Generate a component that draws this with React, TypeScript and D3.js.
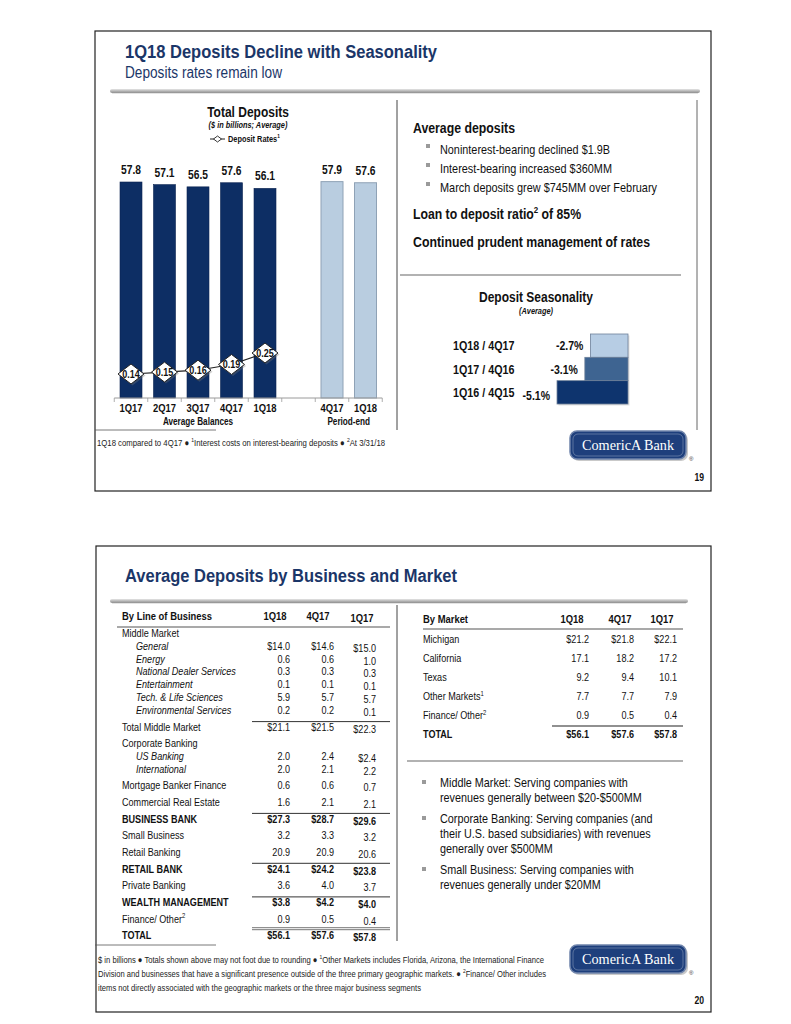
import React from 'react';
import * as d3 from 'd3';

// ---------- data ----------
const quarters = ['1Q17', '2Q17', '3Q17', '4Q17', '1Q18'];
const avgDeposits = [57.8, 57.1, 56.5, 57.6, 56.1];
const periodQuarters = ['4Q17', '1Q18'];
const periodDeposits = [57.9, 57.6];
const depositRates = [0.14, 0.15, 0.16, 0.19, 0.25];

const seasonLabels = ['1Q18 / 4Q17', '1Q17 / 4Q16', '1Q16 / 4Q15'];
const seasonValues = [-2.7, -3.1, -5.1];
const seasonColors = ['#b7cde4', '#3e6491', '#0e346e'];

const colHeaders = ['1Q18', '4Q17', '1Q17'];

const lobLabels = ['Middle Market', 'General', 'Energy', 'National Dealer Services', 'Entertainment', 'Tech. & Life Sciences', 'Environmental Services', 'Total Middle Market', 'Corporate Banking', 'US Banking', 'International', 'Mortgage Banker Finance', 'Commercial Real Estate', 'BUSINESS BANK', 'Small Business', 'Retail Banking', 'RETAIL BANK', 'Private Banking', 'WEALTH MANAGEMENT', 'Finance/ Other', 'TOTAL'];
const lobKinds = ['group', 'sub', 'sub', 'sub', 'sub', 'sub', 'sub', 'subtotal', 'group', 'sub', 'sub', 'row', 'row', 'bold', 'row', 'row', 'bold', 'row', 'bold', 'row', 'total'];
const lobSup = ['', '', '', '', '', '', '', '', '', '', '', '', '', '', '', '', '', '', '', '2', ''];
const lob1Q18 = ['', '$14.0', '0.6', '0.3', '0.1', '5.9', '0.2', '$21.1', '', '2.0', '2.0', '0.6', '1.6', '$27.3', '3.2', '20.9', '$24.1', '3.6', '$3.8', '0.9', '$56.1'];
const lob4Q17 = ['', '$14.6', '0.6', '0.3', '0.1', '5.7', '0.2', '$21.5', '', '2.4', '2.1', '0.6', '2.1', '$28.7', '3.3', '20.9', '$24.2', '4.0', '$4.2', '0.5', '$57.6'];
const lob1Q17 = ['', '$15.0', '1.0', '0.3', '0.1', '5.7', '0.1', '$22.3', '', '$2.4', '2.2', '0.7', '2.1', '$29.6', '3.2', '20.6', '$23.8', '3.7', '$4.0', '0.4', '$57.8'];

const marketLabels = ['Michigan', 'California', 'Texas', 'Other Markets', 'Finance/ Other', 'TOTAL'];
const marketSup = ['', '', '', '1', '2', ''];
const market1Q18 = ['$21.2', '17.1', '9.2', '7.7', '0.9', '$56.1'];
const market4Q17 = ['$21.8', '18.2', '9.4', '7.7', '0.5', '$57.6'];
const market1Q17 = ['$22.1', '17.2', '10.1', '7.9', '0.4', '$57.8'];

const topBullets = ['Noninterest-bearing declined $1.9B', 'Interest-bearing increased $360MM', 'March deposits grew $745MM over February'];
const segBullets = [
  ['Middle Market: Serving companies with', 'revenues generally between $20-$500MM'],
  ['Corporate Banking: Serving companies (and', 'their U.S. based subsidiaries) with revenues', 'generally over $500MM'],
  ['Small Business: Serving companies with', 'revenues generally under $20MM'],
];

// ---------- helpers ----------
const FONT = "'Liberation Sans', Arial, Helvetica, sans-serif";
const NAVY = '#1b3668';

function T(props: any) {
  const { x, y, s = 11, b = false, i = false, a = 'start', c = '#111', sx = 0.82, w, children, ff } = props;
  if (w) {
    return (
      <text x={x} y={y} fontSize={s} fontWeight={b ? 700 : 400} fontStyle={i ? 'italic' : 'normal'} textAnchor={a} fill={c}
        fontFamily={ff || FONT} textLength={w} lengthAdjust="spacingAndGlyphs">{children}</text>
    );
  }
  return (
    <text transform={`translate(${x},${y}) scale(${sx},1)`} fontSize={s} fontWeight={b ? 700 : 400}
      fontStyle={i ? 'italic' : 'normal'} textAnchor={a} fill={c} fontFamily={ff || FONT}>{children}</text>
  );
}

function Sup({ children, s }: any) {
  return <tspan dy={-s * 0.4} fontSize={s * 0.65}>{children}</tspan>;
}

function Rule({ x1, x2, y }: any) {
  return (
    <g>
      <rect x={x1} y={y - 2} width={x2 - x1} height={4} rx={2} fill="url(#ruleGrad)" />
      <line x1={x1 + 2} x2={x2 - 2} y1={y + 2.5} y2={y + 2.5} stroke="#e4e4e4" strokeWidth={1} />
    </g>
  );
}

function Logo({ x, y }: any) {
  const w = 116, h = 28;
  return (
    <g>
      <rect x={x + 2} y={y + 2} width={w} height={h} rx={7} fill="#c9c9c9" />
      <rect x={x} y={y} width={w} height={h} rx={7} fill="#1e3f7c" stroke="#6f84ab" strokeWidth={1.5} />
      <rect x={x + 3} y={y + 3} width={w - 6} height={h - 6} rx={5} fill="none" stroke="#ffffff" strokeOpacity={0.35} strokeWidth={0.8} />
      <text x={x + w / 2} y={y + 19} fontSize={15} fill="#ffffff" textAnchor="middle" fontFamily="'Liberation Serif', 'Times New Roman', serif"
        textLength={92} lengthAdjust="spacingAndGlyphs">ComericA Bank</text>
      <text x={x + w + 3} y={y + h + 2} fontSize={6} fill="#333" fontFamily={FONT}>®</text>
    </g>
  );
}

// ---------- top chart ----------
function DepositsChart() {
  const slots = [...quarters.map((q) => 'A' + q), 'gap', ...periodQuarters.map((q) => 'P' + q)];
  const x = d3.scalePoint<string>().domain(slots).range([131, 365.5]);
  const step = x.step();
  const bw = 22;
  const y = d3.scaleLinear().domain([0, 60]).range([398, 398 - 60 * 3.737]);
  const yR = d3.scaleLinear().domain([0, 0.25]).range([400.7, 353]);
  const avg = quarters.map((q, i) => ({ k: 'A' + q, label: q, v: avgDeposits[i] }));
  const per = periodQuarters.map((q, i) => ({ k: 'P' + q, label: q, v: periodDeposits[i] }));
  const rates = quarters.map((q, i) => ({ k: 'A' + q, r: depositRates[i] }));
  const line = d3.line<any>().x((d) => x(d.k)!).y((d) => yR(d.r));
  const diamond = 'M0,-10 L13,0 L0,10 L-13,0 Z';
  const x0 = x(slots[0])! - step / 2;
  const x1 = x(slots[slots.length - 1])! + step / 2;
  const bounds = d3.range(slots.length + 1).map((i) => x0 + i * step);

  return (
    <g>
      <T x={248} y={117} s={15} b a="middle" sx={0.8}>Total Deposits</T>
      <T x={248} y={128} s={9} b i a="middle" sx={0.82}>($ in billions; Average)</T>
      <line x1={210} x2={225} y1={139} y2={139} stroke="#222" strokeWidth={1} />
      <path d="M0,-3 L4,0 L0,3 L-4,0 Z" transform="translate(217.5,139)" fill="#fff" stroke="#222" strokeWidth={0.9} />
      <T x={228} y={142} s={9} b sx={0.82}>Deposit Rates<Sup s={9}>1</Sup></T>

      {avg.map((d) => (
        <g key={d.k}>
          <rect x={x(d.k)! - bw / 2} y={y(d.v)} width={bw} height={y(0) - y(d.v)} fill="#0d2e64" stroke="#0a2350" strokeWidth={0.6} />
          <T x={x(d.k)} y={y(d.v) - 8} s={12.5} b a="middle" sx={0.82}>{d.v.toFixed(1)}</T>
        </g>
      ))}
      {per.map((d) => (
        <g key={d.k}>
          <rect x={x(d.k)! - bw / 2} y={y(d.v)} width={bw} height={y(0) - y(d.v)} fill="#b9cde0" stroke="#8fa2b6" strokeWidth={1} />
          <T x={x(d.k)} y={y(d.v) - 8} s={12.5} b a="middle" sx={0.82}>{d.v.toFixed(1)}</T>
        </g>
      ))}

      <line x1={x0} x2={x1} y1={398} y2={398} stroke="#9a9a9a" strokeWidth={1} />
      {bounds.map((bx, i) => (
        <line key={i} x1={bx} x2={bx} y1={398} y2={402} stroke="#9a9a9a" strokeWidth={0.8} />
      ))}
      {[...avg, ...per].map((d) => (
        <T key={'l' + d.k} x={x(d.k)} y={412} s={11.5} b a="middle" sx={0.82}>{d.label}</T>
      ))}
      <T x={(x(avg[0].k)! + x(avg[4].k)!) / 2} y={425} s={10} b a="middle" sx={0.82}>Average Balances</T>
      <T x={(x(per[0].k)! + x(per[1].k)!) / 2} y={425} s={10} b a="middle" sx={0.82}>Period-end</T>

      <path d={line(rates)!} fill="none" stroke="#222" strokeWidth={1.1} />
      {rates.map((d) => (
        <g key={'r' + d.k} transform={`translate(${x(d.k)},${yR(d.r)})`}>
          <path d={diamond} transform="translate(1.5,1.5)" fill="#777" opacity={0.35} />
          <path d={diamond} fill="#fff" stroke="#222" strokeWidth={1} />
          <T x={0} y={3.8} s={11} b a="middle" sx={0.82}>{d.r.toFixed(2)}</T>
        </g>
      ))}
    </g>
  );
}

function SeasonChart() {
  const yb = d3.scaleBand<string>().domain(seasonLabels).range([334, 404]).padding(0);
  const xs = d3.scaleLinear().domain([-6, 0]).range([628 - 6 * 13.92, 628]);
  return (
    <g>
      <T x={536} y={302} s={15} b a="middle" sx={0.8}>Deposit Seasonality</T>
      <T x={536} y={314} s={9} b i a="middle" sx={0.82}>(Average)</T>
      {seasonLabels.map((l, i) => {
        const by = yb(l)!;
        const v = seasonValues[i];
        return (
          <g key={l}>
            <rect x={xs(v) + 1.5} y={by + 1.5} width={xs(0) - xs(v)} height={yb.bandwidth()} fill="#999" opacity={0.3} />
            <rect x={xs(v)} y={by} width={xs(0) - xs(v)} height={yb.bandwidth()} fill={seasonColors[i]} stroke="#6e819a" strokeWidth={0.8} />
            <T x={453} y={by + yb.bandwidth() / 2 + 4.5} s={12.5} b sx={0.86}>{l}</T>
            <T x={xs(v) - 7} y={by + yb.bandwidth() / 2 + 4.5 + (i === 2 ? 3 : 0)} s={12.5} b a="end" sx={0.84}>{v.toFixed(1) + '%'}</T>
          </g>
        );
      })}
    </g>
  );
}

// ---------- tables ----------
function LobTable() {
  const ys: number[] = [];
  let yy = 637;
  lobKinds.forEach((k, i) => {
    if (i > 0) {
      let st = k === 'sub' ? 12.8 : k === 'total' ? 15 : 16.3;
      if (k === 'subtotal' || k === 'bold' || k === 'total') st += 1;
      yy += st;
    }
    ys.push(yy);
  });
  const colRight = [290, 334, 376];
  const colCenter = [275, 318, 362];
  const cols = [lob1Q18, lob4Q17, lob1Q17];
  const s = 10.8;
  return (
    <g>
      <T x={122} y={620} s={11.5} b sx={0.82}>By Line of Business</T>
      {colHeaders.map((h, j) => (
        <T key={h} x={colCenter[j]} y={j === 2 ? 622 : 620} s={11.5} b a="middle" sx={0.82}>{h}</T>
      ))}
      <line x1={117} x2={390} y1={627} y2={627} stroke="#555" strokeWidth={1.2} />
      {lobLabels.map((l, i) => {
        const k = lobKinds[i];
        const bold = k === 'bold' || k === 'total';
        const lineAbove = k === 'subtotal' || k === 'bold' || k === 'total';
        return (
          <g key={l}>
            {lineAbove && k !== 'total' && <line x1={252} x2={390} y1={ys[i] - 9.5} y2={ys[i] - 9.5} stroke="#333" strokeWidth={1} />}
            {k === 'total' && (
              <g>
                <line x1={252} x2={390} y1={ys[i] - 11} y2={ys[i] - 11} stroke="#777" strokeWidth={1} />
                <line x1={252} x2={390} y1={ys[i] - 9} y2={ys[i] - 9} stroke="#777" strokeWidth={1} />
              </g>
            )}
            <T x={k === 'sub' ? 136 : 122} y={ys[i]} s={s} b={bold} i={k === 'sub'} sx={0.84}>
              {l}{lobSup[i] ? <Sup s={s}>{lobSup[i]}</Sup> : null}
            </T>
            {cols.map((c, j) => c[i] ? (
              <T key={j} x={colRight[j]} y={ys[i] + (j === 2 ? 2 : 0)} s={s} b={bold} a="end" sx={0.84}>{c[i]}</T>
            ) : null)}
          </g>
        );
      })}
    </g>
  );
}

function MarketTable() {
  const yRow = d3.scaleLinear().domain([0, 1]).range([643, 662]);
  const colRight = [589, 634, 677];
  const colCenter = [572, 620, 662];
  const cols = [market1Q18, market4Q17, market1Q17];
  const s = 10.8;
  return (
    <g>
      <T x={423} y={623} s={11.5} b sx={0.82}>By Market</T>
      {colHeaders.map((h, j) => (
        <T key={h} x={colCenter[j]} y={623} s={11.5} b a="middle" sx={0.82}>{h}</T>
      ))}
      <line x1={423} x2={683} y1={629} y2={629} stroke="#555" strokeWidth={1.2} />
      {marketLabels.map((l, i) => {
        const bold = l === 'TOTAL';
        const yy = yRow(i);
        return (
          <g key={l}>
            {bold && <line x1={552} x2={683} y1={yy - 12} y2={yy - 12} stroke="#222" strokeWidth={1.1} />}
            <T x={423} y={yy} s={s} b={bold} sx={0.84}>{l}{marketSup[i] ? <Sup s={s}>{marketSup[i]}</Sup> : null}</T>
            {cols.map((c, j) => (
              <T key={j} x={colRight[j]} y={yy} s={s} b={bold} a="end" sx={0.84}>{c[i]}</T>
            ))}
          </g>
        );
      })}
    </g>
  );
}

export default function App() {
  let by = 787;
  const bulletRows: any[] = [];
  segBullets.forEach((lines, bi) => {
    if (bi > 0) by += 21;
    lines.forEach((ln, li) => {
      bulletRows.push({ y: by + li * 15, text: ln, first: li === 0 });
    });
    by += (lines.length - 1) * 15;
  });
  const topBulletW = [170, 172, 217];

  return (
    <svg width={791} height={1024} viewBox="0 0 791 1024" style={{ position: 'absolute', left: 0, top: 0, background: '#fff' }}>
      <defs>
        <linearGradient id="ruleGrad" x1="0" x2="0" y1="0" y2="1">
          <stop offset="0" stopColor="#e6e6e6" />
          <stop offset="0.5" stopColor="#b5b5b5" />
          <stop offset="1" stopColor="#8f8f8f" />
        </linearGradient>
      </defs>
      <rect x={0} y={0} width={791} height={1024} fill="#fff" />

      {/* ===== slide 19 ===== */}
      <rect x={95} y={31} width={616} height={460} fill="#fff" stroke="#222" strokeWidth={1.2} />
      <T x={125} y={58} s={18} b c={NAVY} w={312}>1Q18 Deposits Decline with Seasonality</T>
      <T x={125} y={78} s={16} c={NAVY} w={157}>Deposits rates remain low</T>
      <Rule x1={110} x2={700} y={91} />

      <DepositsChart />
      <line x1={397} x2={397} y1={100} y2={430} stroke="#444" strokeWidth={1} />
      <line x1={697} x2={697} y1={100} y2={430} stroke="#666" strokeWidth={1} />

      <T x={413} y={133} s={14} b w={102}>Average deposits</T>
      {topBullets.map((b, i) => (
        <g key={b}>
          <rect x={426} y={150 + i * 19 - 6} width={4} height={4} fill="#9a9a9a" />
          <T x={440} y={154 + i * 19} s={12.2} w={topBulletW[i]}>{b}</T>
        </g>
      ))}
      <T x={413} y={219} s={14} b w={168}>Loan to deposit ratio<Sup s={14}>2</Sup><tspan dy={14 * 0.4}> of 85%</tspan></T>
      <T x={413} y={247} s={14} b w={237}>Continued prudent management of rates</T>
      <line x1={400} x2={681} y1={275} y2={275} stroke="#666" strokeWidth={1.2} />
      <SeasonChart />

      <line x1={95} x2={216} y1={430} y2={430} stroke="#555" strokeWidth={0.8} />
      <T x={97} y={446} s={9.5} c="#222" w={288}>1Q18 compared to 4Q17 ● <Sup s={9.5}>1</Sup><tspan dy={9.5 * 0.4}>Interest costs on interest-bearing deposits ● </tspan><Sup s={9.5}>2</Sup><tspan dy={9.5 * 0.4}>At 3/31/18</tspan></T>
      <Logo x={570} y={431} />
      <T x={704} y={481} s={10.5} b a="end" sx={0.82}>19</T>

      {/* ===== slide 20 ===== */}
      <rect x={96} y={546} width={615} height={466} fill="#fff" stroke="#222" strokeWidth={1.2} />
      <T x={125} y={582} s={18} b c={NAVY} w={332}>Average Deposits by Business and Market</T>
      <Rule x1={110} x2={688} y={601} />

      <LobTable />
      <line x1={397} x2={397} y1={605} y2={941} stroke="#444" strokeWidth={1} />
      <MarketTable />
      <line x1={407} x2={683} y1={761} y2={761} stroke="#666" strokeWidth={1.2} />

      {bulletRows.map((r, i) => (
        <g key={i}>
          {r.first && <rect x={422} y={r.y - 7} width={4} height={4} fill="#9a9a9a" />}
          <T x={440} y={r.y} s={12.8} sx={0.845}>{r.text}</T>
        </g>
      ))}

      <line x1={95} x2={216} y1={945} y2={945} stroke="#555" strokeWidth={0.8} />
      <T x={98} y={963} s={9} c="#222" w={446}>$ in billions ● Totals shown above may not foot due to rounding ● <Sup s={9}>1</Sup><tspan dy={9 * 0.4}>Other Markets includes Florida, Arizona, the International Finance</tspan></T>
      <T x={98} y={977} s={9} c="#222" w={448}>Division and businesses that have a significant presence outside of the three primary geographic markets. ● <Sup s={9}>2</Sup><tspan dy={9 * 0.4}>Finance/ Other includes</tspan></T>
      <T x={98} y={991} s={9} c="#222" w={323}>items not directly associated with the geographic markets or the three major business segments</T>
      <Logo x={570} y={945} />
      <T x={704} y={1004} s={10.5} b a="end" sx={0.82}>20</T>
    </svg>
  );
}
